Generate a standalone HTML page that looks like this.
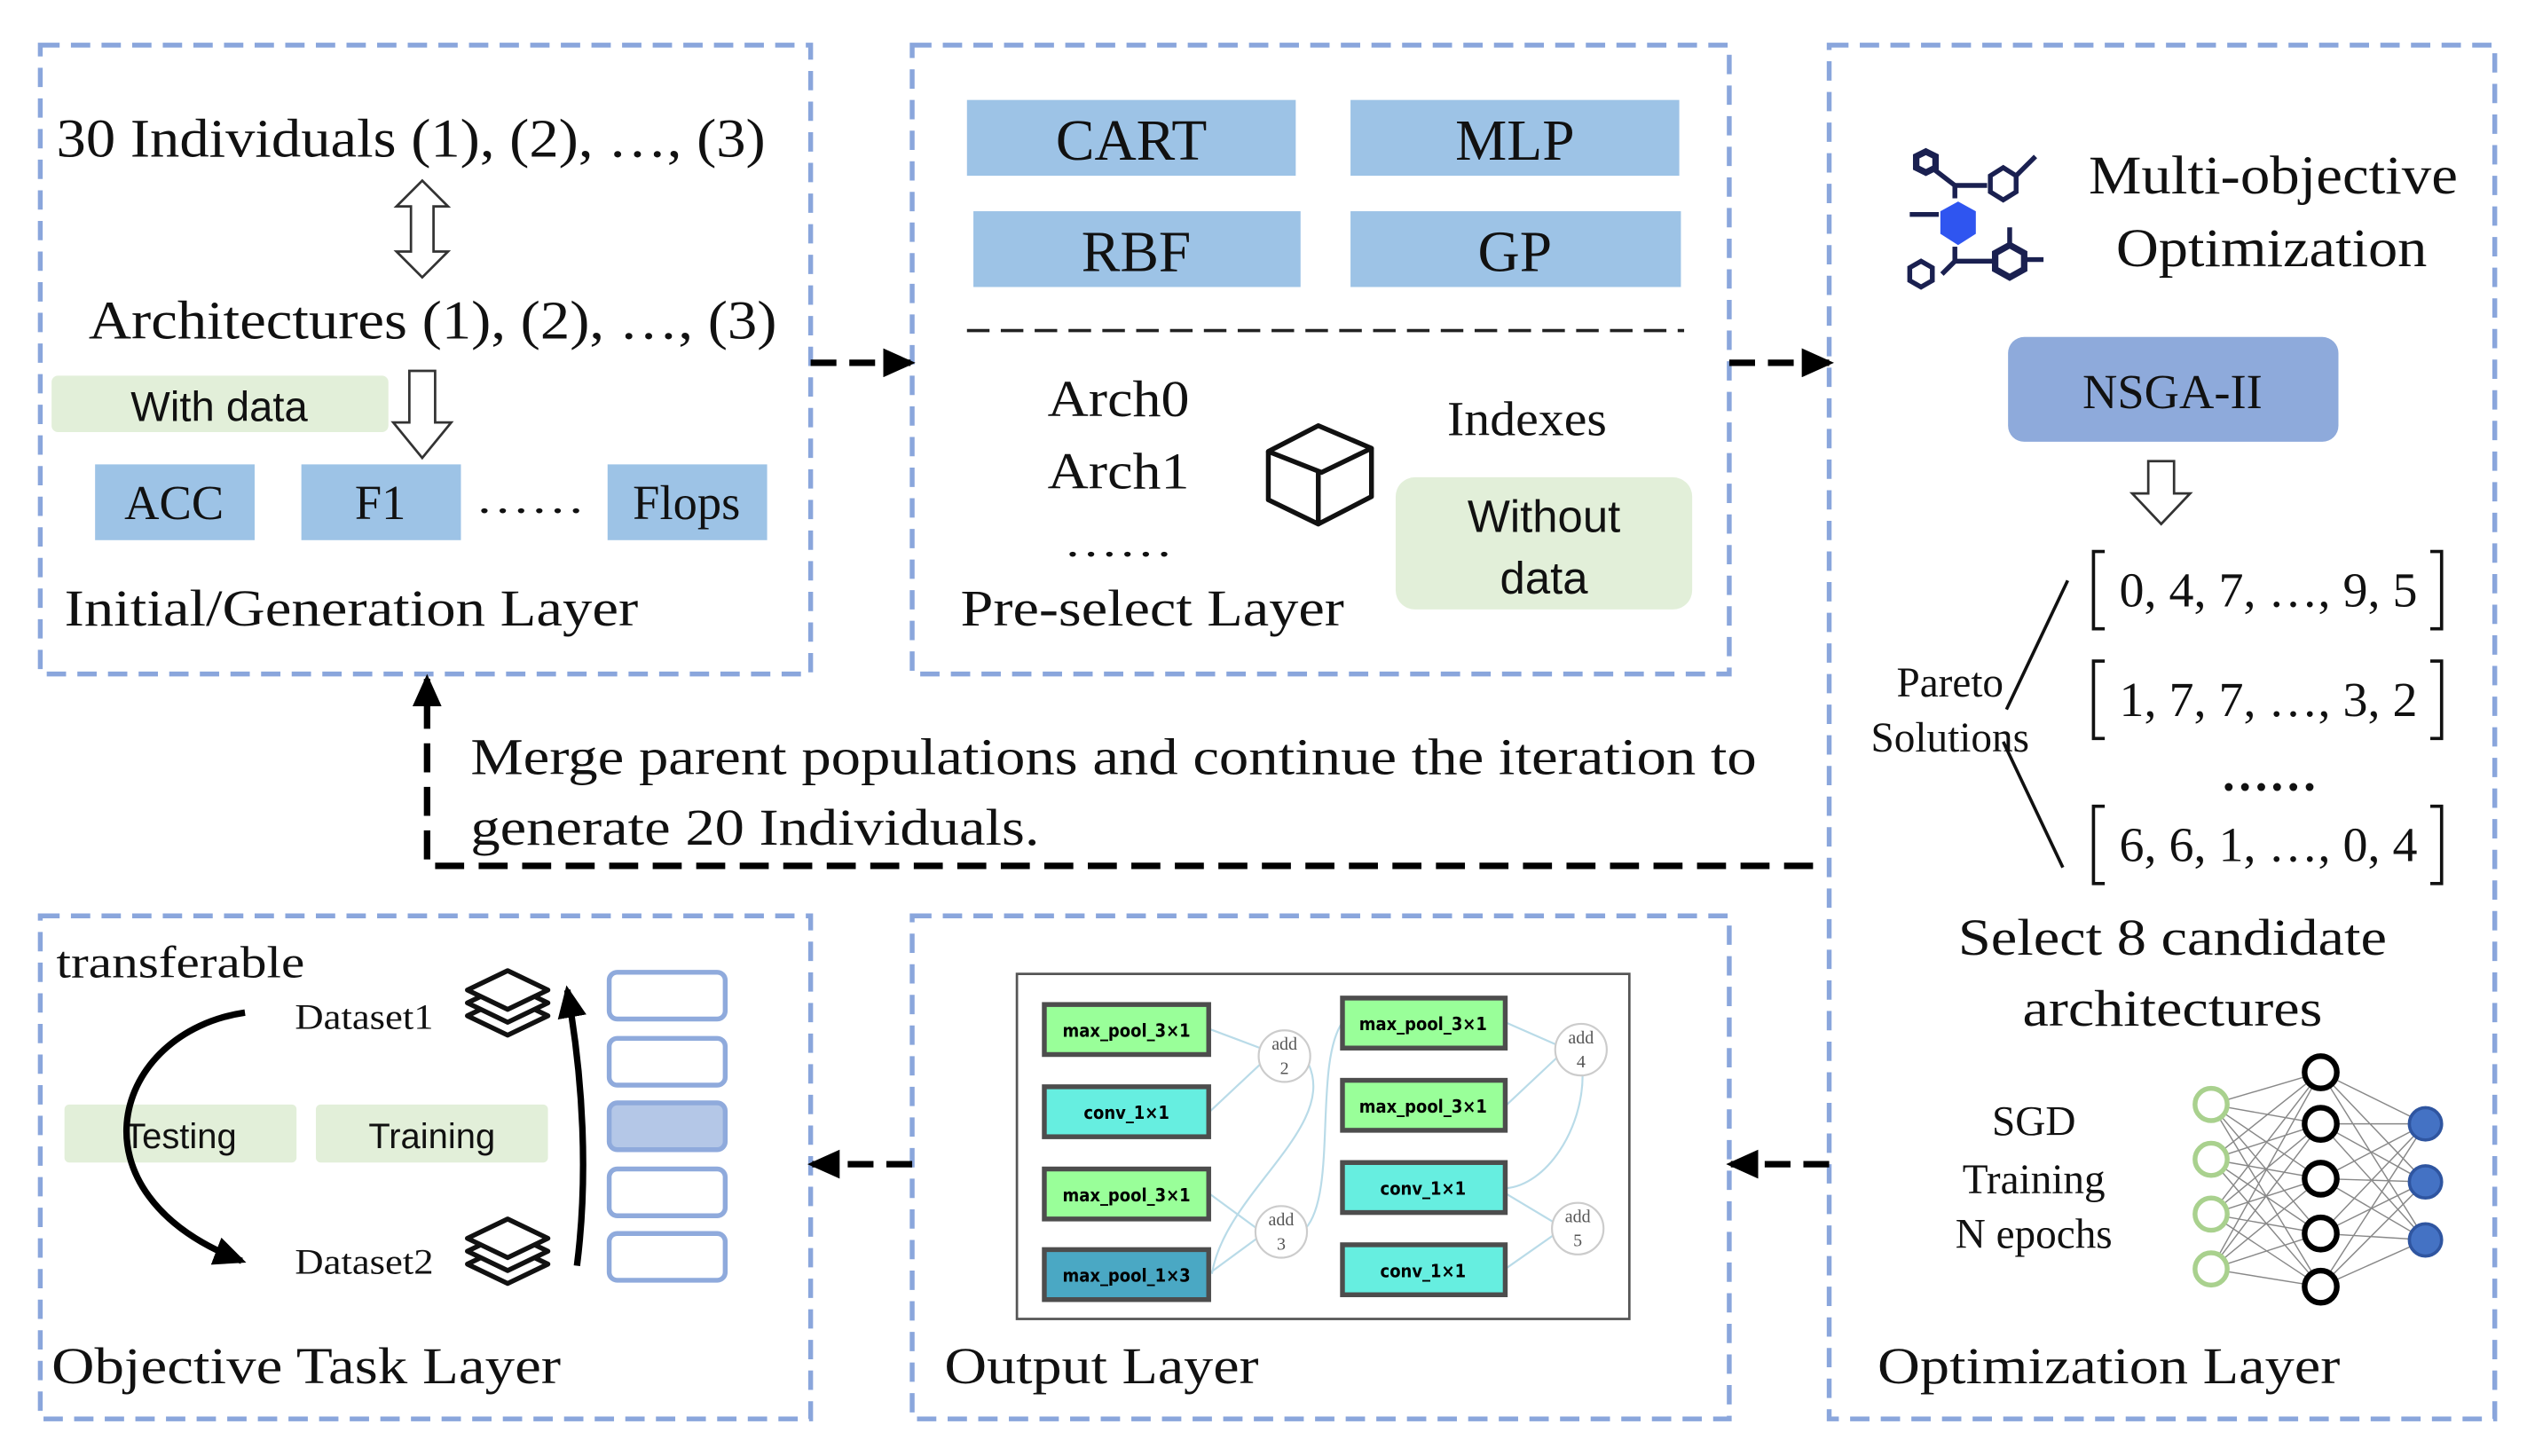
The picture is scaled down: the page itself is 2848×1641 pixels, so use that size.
<!DOCTYPE html>
<html><head><meta charset="utf-8"><style>
html,body{margin:0;padding:0;background:#fff;}
svg{display:block;}
.s{font-family:"Liberation Serif",serif;fill:#111;}
.a{font-family:"Liberation Sans",sans-serif;fill:#111;}
.bx{fill:none;stroke:#8aa6dc;stroke-width:3;stroke-dasharray:12 7;}
.nd{stroke:#4d4d4d;stroke-width:3;}
.nt{font-family:"DejaVu Sans Condensed","Liberation Sans",sans-serif;font-size:11px;font-weight:bold;fill:#000;text-anchor:middle;}
.ed{fill:none;stroke:#b9dbe8;stroke-width:1.2;}
</style></head><body>
<svg width="2848" height="1641" viewBox="0 0 1568 903" preserveAspectRatio="none" xmlns="http://www.w3.org/2000/svg">
<defs>
<marker id="ah" markerWidth="20" markerHeight="18" refX="17" refY="9" orient="auto" markerUnits="userSpaceOnUse"><path d="M0,0 L20,9 L0,18 z" fill="#000"/></marker>
</defs>
<rect class="bx" x="25" y="28" width="478" height="390"/>
<rect class="bx" x="566" y="28" width="507" height="390"/>
<rect class="bx" x="1135" y="28" width="413" height="852"/>
<rect class="bx" x="25" y="568" width="478" height="312"/>
<rect class="bx" x="566" y="568" width="507" height="312"/>

<!-- Box1 -->
<text class="s" x="35" y="97" font-size="34" textLength="440" lengthAdjust="spacingAndGlyphs">30 Individuals (1), (2), …, (3)</text>
<path d="M262,112 l-16,16 h9 v28 h-9 l16,16 l16,-16 h-9 v-28 h9 z" fill="#fff" stroke="#333" stroke-width="1.5"/>
<text class="s" x="55" y="210" font-size="34" textLength="427" lengthAdjust="spacingAndGlyphs">Architectures (1), (2), …, (3)</text>
<rect x="32" y="233" width="209" height="35" rx="4" fill="#e2efd9"/>
<text class="a" x="136" y="261" font-size="26" text-anchor="middle">With data</text>
<path d="M254,230 h16 v32 h10 l-18,22 l-18,-22 h10 z" fill="#fff" stroke="#333" stroke-width="1.5"/>
<rect x="59" y="288" width="99" height="47" fill="#9dc3e6"/>
<text class="s" x="108" y="322" font-size="30" text-anchor="middle">ACC</text>
<rect x="187" y="288" width="99" height="47" fill="#9dc3e6"/>
<text class="s" x="236" y="322" font-size="30" text-anchor="middle">F1</text>
<text class="s" x="295" y="318" font-size="26" textLength="68" lengthAdjust="spacingAndGlyphs">……</text>
<rect x="377" y="288" width="99" height="47" fill="#9dc3e6"/>
<text class="s" x="426" y="322" font-size="30" text-anchor="middle">Flops</text>
<text class="s" x="40" y="388" font-size="32" textLength="356" lengthAdjust="spacingAndGlyphs">Initial/Generation Layer</text>

<!-- Box2 -->
<rect x="600" y="62" width="204" height="47" fill="#9dc3e6"/>
<text class="s" x="702" y="99" font-size="36" text-anchor="middle">CART</text>
<rect x="838" y="62" width="204" height="47" fill="#9dc3e6"/>
<text class="s" x="940" y="99" font-size="36" text-anchor="middle">MLP</text>
<rect x="604" y="131" width="203" height="47" fill="#9dc3e6"/>
<text class="s" x="705" y="168" font-size="36" text-anchor="middle">RBF</text>
<rect x="838" y="131" width="205" height="47" fill="#9dc3e6"/>
<text class="s" x="940" y="168" font-size="36" text-anchor="middle">GP</text>
<line x1="600" y1="205" x2="1045" y2="205" stroke="#222" stroke-width="2" stroke-dasharray="14 7"/>
<text class="s" x="650" y="258" font-size="32" textLength="88" lengthAdjust="spacingAndGlyphs">Arch0</text>
<text class="s" x="650" y="303" font-size="32" textLength="88" lengthAdjust="spacingAndGlyphs">Arch1</text>
<text class="s" x="660" y="345" font-size="26" textLength="68" lengthAdjust="spacingAndGlyphs">……</text>
<g fill="none" stroke="#111" stroke-width="3" stroke-linejoin="round">
<path d="M787,280 L818,264 L851,278 L820,293 Z"/>
<path d="M787,280 V310 L818,325 V293"/>
<path d="M851,278 V308 L818,325"/>
</g>
<text class="s" x="898" y="270" font-size="30" textLength="99" lengthAdjust="spacingAndGlyphs">Indexes</text>
<rect x="866" y="296" width="184" height="82" rx="12" fill="#e2efd9"/>
<text class="a" x="958" y="330" font-size="28" text-anchor="middle">Without</text>
<text class="a" x="958" y="368" font-size="28" text-anchor="middle">data</text>
<text class="s" x="596" y="388" font-size="32" textLength="238" lengthAdjust="spacingAndGlyphs">Pre-select Layer</text>

<!-- connecting arrows -->
<line x1="503" y1="225" x2="565" y2="225" stroke="#000" stroke-width="4" stroke-dasharray="16 8" marker-end="url(#ah)"/>
<line x1="1073" y1="225" x2="1135" y2="225" stroke="#000" stroke-width="4" stroke-dasharray="16 8" marker-end="url(#ah)"/>
<line x1="1135" y1="722" x2="1074" y2="722" stroke="#000" stroke-width="4" stroke-dasharray="16 8" marker-end="url(#ah)"/>
<line x1="566" y1="722" x2="504" y2="722" stroke="#000" stroke-width="4" stroke-dasharray="16 8" marker-end="url(#ah)"/>
<path d="M1125,537 H265 V421" fill="none" stroke="#000" stroke-width="4" stroke-dasharray="18 9" marker-end="url(#ah)"/>
<text class="s" x="292" y="480" font-size="32" textLength="798" lengthAdjust="spacingAndGlyphs">Merge parent populations and continue the iteration to</text>
<text class="s" x="292" y="524" font-size="32" textLength="353" lengthAdjust="spacingAndGlyphs">generate 20 Individuals.</text>

<!-- Box3 -->
<g stroke="#1a2050" stroke-width="3" fill="none">
<polygon points="1195,94 1201,97 1201,104 1195,107 1189,104 1189,97" stroke-width="4"/>
<line x1="1200" y1="105" x2="1213" y2="115"/>
<line x1="1213" y1="115" x2="1213" y2="123"/>
<line x1="1213" y1="115" x2="1233" y2="115"/>
<polygon points="1243,104 1251,109 1251,119 1243,124 1235,119 1235,109"/>
<line x1="1251" y1="109" x2="1263" y2="97"/>
<line x1="1185" y1="133" x2="1203" y2="133"/>
<line x1="1213" y1="153" x2="1213" y2="162"/>
<line x1="1213" y1="162" x2="1237" y2="162"/>
<line x1="1213" y1="162" x2="1205" y2="170"/>
<polygon points="1192,162 1199,166 1199,174 1192,178 1185,174 1185,166"/>
<polygon points="1247,152 1256,157 1256,167 1247,172 1238,167 1238,157" stroke-width="4"/>
<line x1="1247" y1="152" x2="1247" y2="141"/>
<line x1="1256" y1="161" x2="1268" y2="161"/>
</g>
<polygon points="1215,125 1226,131 1226,145 1215,152 1204,145 1204,131" fill="#2f55f0"/>
<text class="s" x="1296" y="120" font-size="34" textLength="229" lengthAdjust="spacingAndGlyphs">Multi-objective</text>
<text class="s" x="1313" y="165" font-size="34" textLength="193" lengthAdjust="spacingAndGlyphs">Optimization</text>
<rect x="1246" y="209" width="205" height="65" rx="10" fill="#8eaadb"/>
<text class="s" x="1348" y="253" font-size="30" text-anchor="middle">NSGA-II</text>
<path d="M1333,286 h16 v20 h10 l-18,19 l-18,-19 h10 z" fill="#fff" stroke="#333" stroke-width="1.5"/>
<text x="1315" y="376" class="s" font-size="30" textLength="185" lengthAdjust="spacingAndGlyphs">0, 4, 7, …, 9, 5</text>
<text x="1315" y="444" class="s" font-size="30" textLength="185" lengthAdjust="spacingAndGlyphs">1, 7, 7, …, 3, 2</text>
<text x="1315" y="534" class="s" font-size="30" textLength="185" lengthAdjust="spacingAndGlyphs">6, 6, 1, …, 0, 4</text>
<g fill="none" stroke="#111" stroke-width="2">
<path d="M1306,342 h-7 v48 h7 M1508,342 h7 v48 h-7"/>
<path d="M1306,410 h-7 v48 h7 M1508,410 h7 v48 h-7"/>
<path d="M1306,500 h-7 v48 h7 M1508,500 h7 v48 h-7"/>
<line x1="1283" y1="360" x2="1245" y2="440"/>
<line x1="1243" y1="460" x2="1280" y2="538"/>
</g>
<text class="s" x="1408" y="490" font-size="30" font-weight="bold" text-anchor="middle">……</text>
<text class="s" x="1210" y="432" font-size="26" text-anchor="middle">Pareto</text>
<text class="s" x="1210" y="466" font-size="26" text-anchor="middle">Solutions</text>
<text class="s" x="1215" y="592" font-size="32" textLength="266" lengthAdjust="spacingAndGlyphs">Select 8 candidate</text>
<text class="s" x="1255" y="636" font-size="32" textLength="186" lengthAdjust="spacingAndGlyphs">architectures</text>
<text class="s" x="1262" y="704" font-size="26" text-anchor="middle">SGD</text>
<text class="s" x="1262" y="740" font-size="26" text-anchor="middle">Training</text>
<text class="s" x="1262" y="774" font-size="26" text-anchor="middle">N epochs</text>
<g stroke="#888" stroke-width="0.8">
<path d="M1372,685L1440,665M1372,685L1440,697M1372,685L1440,731M1372,685L1440,765M1372,685L1440,798
M1372,719L1440,665M1372,719L1440,697M1372,719L1440,731M1372,719L1440,765M1372,719L1440,798
M1372,753L1440,665M1372,753L1440,697M1372,753L1440,731M1372,753L1440,765M1372,753L1440,798
M1372,787L1440,665M1372,787L1440,697M1372,787L1440,731M1372,787L1440,765M1372,787L1440,798
M1440,665L1505,697M1440,665L1505,733M1440,665L1505,769
M1440,697L1505,697M1440,697L1505,733M1440,697L1505,769
M1440,731L1505,697M1440,731L1505,733M1440,731L1505,769
M1440,765L1505,697M1440,765L1505,733M1440,765L1505,769
M1440,798L1505,697M1440,798L1505,733M1440,798L1505,769"/>
</g>
<g fill="#fff" stroke="#a9d18e" stroke-width="3">
<circle cx="1372" cy="685" r="10"/><circle cx="1372" cy="719" r="10"/><circle cx="1372" cy="753" r="10"/><circle cx="1372" cy="787" r="10"/>
</g>
<g fill="#fff" stroke="#000" stroke-width="3.5">
<circle cx="1440" cy="665" r="10"/><circle cx="1440" cy="697" r="10"/><circle cx="1440" cy="731" r="10"/><circle cx="1440" cy="765" r="10"/><circle cx="1440" cy="798" r="10"/>
</g>
<g fill="#4472c4" stroke="#2f55a0" stroke-width="2">
<circle cx="1505" cy="697" r="10"/><circle cx="1505" cy="733" r="10"/><circle cx="1505" cy="769" r="10"/>
</g>
<text class="s" x="1165" y="858" font-size="32" textLength="287" lengthAdjust="spacingAndGlyphs">Optimization Layer</text>

<!-- Box4 -->
<text class="s" x="35" y="606" font-size="28" textLength="154" lengthAdjust="spacingAndGlyphs">transferable</text>
<text class="s" x="183" y="638" font-size="22" textLength="86" lengthAdjust="spacingAndGlyphs">Dataset1</text>
<text class="s" x="183" y="790" font-size="22" textLength="86" lengthAdjust="spacingAndGlyphs">Dataset2</text>
<g fill="#fff" stroke="#111" stroke-width="3" stroke-linejoin="round">
<path d="M290,630 L315,618 L340,630 L315,642 Z"/>
<path d="M290,622 L315,610 L340,622 L315,634 Z"/>
<path d="M290,614 L315,602 L340,614 L315,626 Z"/>
<path d="M290,784 L315,772 L340,784 L315,796 Z"/>
<path d="M290,776 L315,764 L340,776 L315,788 Z"/>
<path d="M290,768 L315,756 L340,768 L315,780 Z"/>
</g>
<rect x="40" y="685" width="144" height="36" rx="3" fill="#e2efd9"/>
<text class="a" x="112" y="712" font-size="22" text-anchor="middle">Testing</text>
<rect x="196" y="685" width="144" height="36" rx="3" fill="#e2efd9"/>
<text class="a" x="268" y="712" font-size="22" text-anchor="middle">Training</text>
<path d="M152,628 C70,640 40,740 150,782" fill="none" stroke="#000" stroke-width="4" marker-end="url(#ah)"/>
<path d="M358,785 C365,730 362,670 352,614" fill="none" stroke="#000" stroke-width="4" marker-end="url(#ah)"/>
<g stroke="#8faadc" stroke-width="3" fill="#fff">
<rect x="378" y="603" width="72" height="29" rx="5"/>
<rect x="378" y="644" width="72" height="29" rx="5"/>
<rect x="378" y="684" width="72" height="29" rx="5" fill="#b4c7e7"/>
<rect x="378" y="725" width="72" height="29" rx="5"/>
<rect x="378" y="765" width="72" height="29" rx="5"/>
</g>
<text class="s" x="32" y="858" font-size="32" textLength="316" lengthAdjust="spacingAndGlyphs">Objective Task Layer</text>

<!-- Box5 -->
<rect x="631" y="604" width="380" height="214" fill="#fff" stroke="#555" stroke-width="1.5"/>
<g class="ed">
<path d="M750,638 L782,650"/><path d="M750,690 L782,660"/>
<path d="M750,740 L780,762"/><path d="M750,790 L780,768"/>
<path d="M812,660 C830,700 760,740 752,790"/>
<path d="M810,762 C830,740 815,660 833,634"/>
<path d="M934,634 L966,648"/><path d="M934,686 L966,656"/>
<path d="M982,667 C982,700 960,735 934,737"/>
<path d="M934,740 L964,758"/><path d="M934,787 L964,766"/>
</g>
<rect class="nd" x="648" y="623" width="102" height="31" fill="#99ff99"/><text class="nt" x="699" y="643">max_pool_3×1</text>
<rect class="nd" x="648" y="674" width="102" height="31" fill="#66eee0"/><text class="nt" x="699" y="694">conv_1×1</text>
<rect class="nd" x="648" y="725" width="102" height="31" fill="#99ff99"/><text class="nt" x="699" y="745">max_pool_3×1</text>
<rect class="nd" x="648" y="775" width="102" height="31" fill="#4aa8c4"/><text class="nt" x="699" y="795">max_pool_1×3</text>
<rect class="nd" x="833" y="619" width="101" height="31" fill="#99ff99"/><text class="nt" x="883" y="639">max_pool_3×1</text>
<rect class="nd" x="833" y="670" width="101" height="31" fill="#99ff99"/><text class="nt" x="883" y="690">max_pool_3×1</text>
<rect class="nd" x="833" y="721" width="101" height="31" fill="#66eee0"/><text class="nt" x="883" y="741">conv_1×1</text>
<rect class="nd" x="833" y="772" width="101" height="31" fill="#66eee0"/><text class="nt" x="883" y="792">conv_1×1</text>
<g fill="#fff" stroke="#ccc" stroke-width="1.2">
<circle cx="797" cy="655" r="16"/><circle cx="795" cy="764" r="16"/><circle cx="981" cy="651" r="16"/><circle cx="979" cy="762" r="16"/>
</g>
<g class="s" font-size="11" text-anchor="middle">
<text x="797" y="651" fill="#555">add</text><text x="797" y="666" fill="#555">2</text>
<text x="795" y="760" fill="#555">add</text><text x="795" y="775" fill="#555">3</text>
<text x="981" y="647" fill="#555">add</text><text x="981" y="662" fill="#555">4</text>
<text x="979" y="758" fill="#555">add</text><text x="979" y="773" fill="#555">5</text>
</g>
<text class="s" x="586" y="858" font-size="32" textLength="195" lengthAdjust="spacingAndGlyphs">Output Layer</text>
</svg>
</body></html>
